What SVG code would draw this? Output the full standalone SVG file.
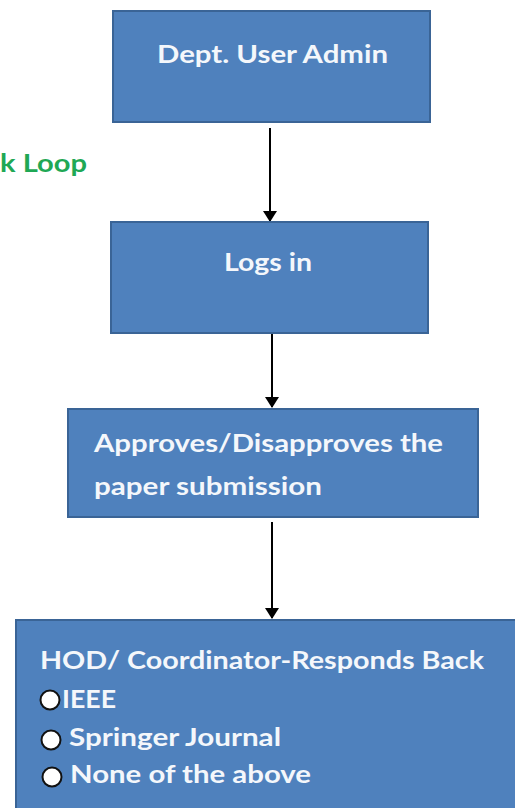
<svg xmlns="http://www.w3.org/2000/svg" width="515" height="808" viewBox="0 0 515 808">
<style>
.box{fill:#4F81BD;stroke:#3A6496;stroke-width:2}
.t{font-family:Lato,"Open Sans","Liberation Sans",sans-serif;font-weight:bold;font-size:24px;fill:#F4F7FB}
.c{stroke:#000;stroke-width:2;fill:none}
.rb{fill:#FFFFFF;stroke:#111;stroke-width:2}
.g{font-family:Lato,"Open Sans","Liberation Sans",sans-serif;font-weight:bold;font-size:24px;fill:#1FA855}
</style>
<defs>
<marker id="ah" markerWidth="14" markerHeight="14" refX="10" refY="7" orient="auto" markerUnits="userSpaceOnUse">
<path d="M0,0 L11,7 L0,14 Z" fill="#000"/>
</marker>
</defs>
<rect width="515" height="808" fill="#fff"/>
<text class="g" x="0" y="172" textLength="87" lengthAdjust="spacingAndGlyphs">k Loop</text>
<g id="connectors">
<line class="c" x1="270" y1="128" x2="270" y2="221" marker-end="url(#ah)"/>
<line class="c" x1="272" y1="334" x2="272" y2="407" marker-end="url(#ah)"/>
<line class="c" x1="272" y1="522" x2="272" y2="618" marker-end="url(#ah)"/>
</g>
<g id="n1">
<rect class="box" x="113" y="11" width="317" height="111"/>
<text class="t" x="157" y="63" textLength="231" lengthAdjust="spacingAndGlyphs">Dept. User Admin</text>
</g>
<g id="n2">
<rect class="box" x="111" y="222" width="317" height="111"/>
<text class="t" x="224" y="271" textLength="88" lengthAdjust="spacingAndGlyphs">Logs in</text>
</g>
<g id="n3">
<rect class="box" x="68" y="409" width="410" height="108"/>
<text class="t" x="94" y="452" textLength="349" lengthAdjust="spacingAndGlyphs">Approves/Disapproves the</text>
<text class="t" x="94" y="495" textLength="228" lengthAdjust="spacingAndGlyphs">paper submission</text>
</g>
<g id="n4">
<rect class="box" x="16" y="620" width="510" height="200"/>
<text class="t" x="40" y="669" textLength="444" lengthAdjust="spacingAndGlyphs">HOD/ Coordinator-Responds Back</text>
<circle class="rb" cx="50" cy="700" r="9.5"/>
<text class="t" x="62" y="708" textLength="54" lengthAdjust="spacingAndGlyphs">IEEE</text>
<circle class="rb" cx="51" cy="740" r="9.5"/>
<text class="t" x="69" y="746" textLength="212" lengthAdjust="spacingAndGlyphs">Springer Journal</text>
<circle class="rb" cx="52" cy="777" r="9.5"/>
<text class="t" x="70" y="783" textLength="241" lengthAdjust="spacingAndGlyphs">None of the above</text>
</g>
</svg>
